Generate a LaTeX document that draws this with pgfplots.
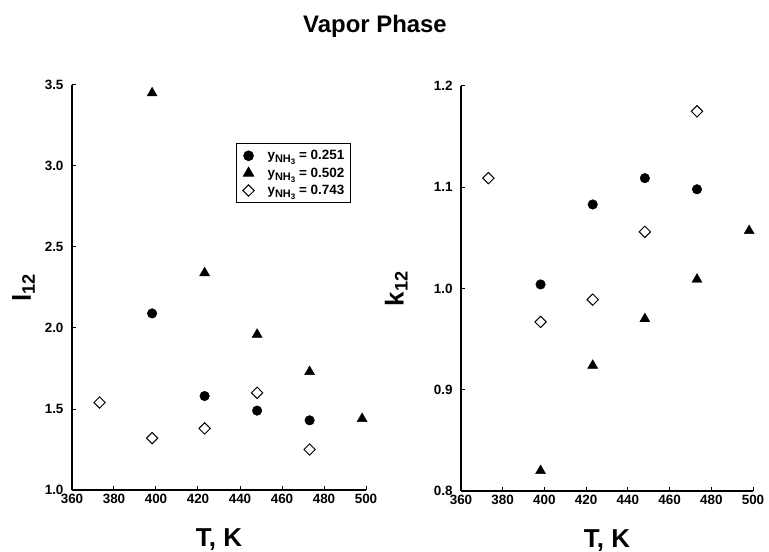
\documentclass[border=0pt]{standalone}
\usepackage{fontspec}
\setmainfont{Liberation Sans}
\usepackage{pgfplots}
\pgfplotsset{compat=1.18}
\newcommand{\yNH}{y\raisebox{-0.45ex}{\fontsize{11}{11}\selectfont NH\raisebox{-0.35ex}{\fontsize{8}{8}\selectfont 3}}}
\pgfplotsset{
  myax/.style={
    scale only axis,
    axis lines=left,
    axis line style={-, line width=1.3bp},
    tick align=inside,
    major tick length=4bp,
    every tick/.style={black, line width=1bp},
    xmin=360, xmax=500,
    xtick={360,380,...,500},
    tick label style={font=\bfseries\fontsize{13.5}{13.5}\selectfont},
    /pgf/number format/assume math mode=true,
    yticklabel style={xshift=-5bp, /pgf/number format/.cd, fixed, fixed zerofill, precision=1},
    xticklabel style={yshift=-1bp},
    label style={font=\bfseries\fontsize{26}{26}\selectfont},
    xlabel={T, K},
    xlabel style={at={(axis description cs:0.5,-0.1407)}, anchor=base, inner sep=0pt},
    clip=false,
  },
  circ/.style={only marks, mark=*, mark size=4.8bp, black},
  tri/.style={only marks, mark=triangle*, mark size=5.8bp, black},
  dia/.style={only marks, mark=square, mark size=4bp, black, mark options={rotate=45, line width=1bp, fill=white}},
}
\begin{document}
\begin{tikzpicture}
\useasboundingbox (-72bp,-62bp) rectangle (697bp,490bp);
\node[font=\bfseries\fontsize{24}{24}\selectfont] at (303bp,464bp) {Vapor Phase};
% left panel
\begin{axis}[myax,
  width=294bp, height=405bp,
  at={(0bp,0bp)}, anchor=south west,
  ymin=1, ymax=3.5,
  ytick={1,1.5,2,2.5,3,3.5},
  ylabel={l\textsubscript{12}},
  ylabel style={at={(axis description cs:-0.165,0.5)}, anchor=center},
  legend image code/.code={\path[draw=none, fill=none] (-8bp,-6bp) rectangle (8bp,6bp); \draw[#1] plot coordinates {(0bp,0bp)};},
  legend style={at={(0.558,0.856)}, anchor=north west, draw=black, line width=1bp,
    font=\bfseries\fontsize{13.5}{15}\selectfont, inner xsep=4bp, inner ysep=4.5bp, row sep=2.5bp,
    column sep=9bp, nodes={inner sep=2bp},
    cells={anchor=west}},
]
\addplot[circ] coordinates {(398.15,2.09) (423.15,1.58) (448.15,1.49) (473.15,1.43)};
\addlegendentry{\yNH{} = 0.251}
\addplot[tri] coordinates {(398.15,3.45) (423.15,2.34) (448.15,1.96) (473.15,1.73) (498.15,1.44)};
\addlegendentry{\yNH{} = 0.502}
\addplot[dia] coordinates {(373.15,1.54) (398.15,1.32) (423.15,1.38) (448.15,1.60) (473.15,1.25)};
\addlegendentry{\yNH{} = 0.743}
\end{axis}
% right panel
\begin{axis}[myax,
  width=292bp, height=405bp,
  at={(389bp,-1bp)}, anchor=south west,
  ymin=0.8, ymax=1.2,
  ytick={0.8,0.9,1.0,1.1,1.2},
  ylabel={k\textsubscript{12}},
  ylabel style={at={(axis description cs:-0.222,0.5)}, anchor=center},
]
\addplot[circ] coordinates {(398.15,1.004) (423.15,1.083) (448.15,1.109) (473.15,1.098)};
\addplot[tri] coordinates {(398.15,0.820) (423.15,0.924) (448.15,0.970) (473.15,1.009) (498.15,1.057)};
\addplot[dia] coordinates {(373.15,1.109) (398.15,0.967) (423.15,0.989) (448.15,1.056) (473.15,1.175)};
\end{axis}
\end{tikzpicture}
\end{document}
